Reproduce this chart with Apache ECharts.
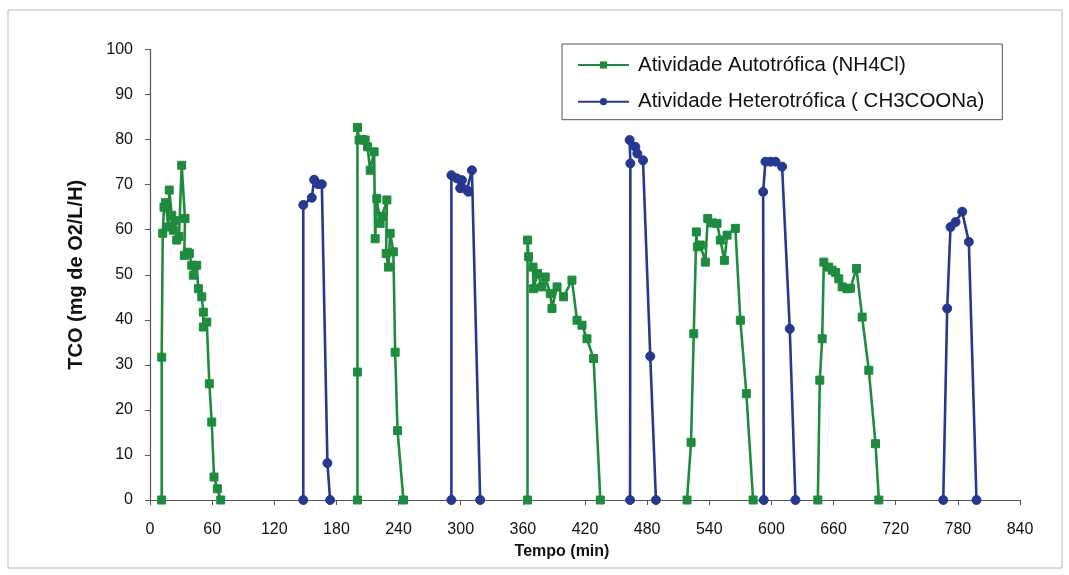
<!DOCTYPE html>
<html>
<head>
<meta charset="utf-8">
<title>TCO</title>
<script src="https://cdn.jsdelivr.net/npm/echarts@6/dist/echarts.min.js"></script>
<style>
  html, body { margin: 0; padding: 0; background: #ffffff; }
  #chart { width: 1069px; height: 575px; }
</style>
</head>
<body>
<div id="chart"></div>
<script>
// Tempo (min) e TCO (mg O2/L/H) — null separa os ciclos de ensaio
const autoTempo = [
  11.3, 11.3, 12.3, 13.5, 15, 17.7, 18.6, 21, 22.5, 24, 25.8, 28, 30.6, 33.8, 33.1, 36, 38, 40.3, 41.8, 45.1, 46.7, 50, 51.5, 51.5, 54.8, 57.3, 59.6, 61.8, 65, 68.3,
  null,
  200.3, 200.3, 200.3, 201.9, 205, 207.7, 210, 212.6, 216.4, 217.4, 219, 222.2, 224, 228.7, 228, 230.2, 231.9, 235, 236.7, 239, 244.7,
  null,
  364.5, 364.5, 365.5, 369.8, 370.3, 374.2, 378.4, 381.6, 386.5, 388.1, 393, 399.3, 407.4, 412.3, 417.1, 421.9, 428.3, 434.8,
  null,
  518.5, 522.4, 525, 527.5, 528.5, 531.4, 536.2, 538.5, 543, 547.5, 550.7, 554.6, 557.2, 565.2, 570, 575.8, 582.3,
  null,
  644.8, 646.7, 649, 650.6, 655.4, 658.6, 662, 665, 668.3, 673, 676.3, 682.1, 687.6, 694, 700.5, 703.7
];
const autoTco = [
  0, 31.7, 59.2, 65, 66, 60.6, 68.8, 63.2, 59.9, 62, 57.7, 58.5, 74.3, 62.5, 54.3, 55, 54.7, 52.1, 49.9, 52.1, 46.9, 45.1, 41.7, 38.4, 39.5, 25.8, 17.3, 5.1, 2.5, 0,
  null,
  0, 28.4, 82.7, 79.9, 80, 79.9, 78.4, 73.2, 77.3, 58, 66.9, 61.4, 63, 66.6, 54.7, 51.7, 59.2, 55.1, 32.8, 15.4, 0,
  null,
  0, 57.7, 54, 51.7, 46.9, 50.3, 47.3, 49.5, 45.8, 42.5, 47.3, 45.1, 48.8, 39.9, 38.8, 35.8, 31.4, 0,
  null,
  0, 12.8, 36.9, 59.5, 56.2, 56.6, 52.8, 62.5, 61.5, 61.4, 57.7, 53.2, 58.8, 60.3, 39.9, 23.6, 0,
  null,
  0, 26.6, 35.8, 52.8, 51.7, 51, 50.5, 49.1, 47.3, 46.9, 47, 51.4, 40.6, 28.8, 12.5, 0
];
const heteroTempo = [
  148, 148, 156.2, 158.5, 162.3, 165.9, 171.3, 173.9,
  null,
  291, 291, 296.3, 299.5, 301.2, 306, 307.5, 310.8, 318.8,
  null,
  463.5, 463.8, 463.1, 468.6, 470.5, 476, 483, 488.5,
  null,
  592.6, 592, 594.2, 599, 603.9, 610.3, 617.7, 623.2,
  null,
  765.9, 769.7, 772.9, 777.8, 784.2, 790.6, 798
];
const heteroTco = [
  0, 65.5, 67.1, 71.1, 70.1, 70.1, 8.2, 0,
  null,
  0, 72.1, 71.4, 69.2, 71, 68.8, 68.4, 73.2, 0,
  null,
  0, 74.7, 79.9, 78.4, 76.9, 75.4, 31.9, 0,
  null,
  0, 68.4, 75.1, 75.1, 75.1, 74, 38, 0,
  null,
  0, 42.5, 60.6, 61.7, 64, 57.3, 0
];
const xTicks = { min: 0, max: 840, step: 60 };
const yTicks = { min: 0, max: 100, step: 10 };
const seriesNames = ['Atividade Autotrófica (NH4Cl)', 'Atividade Heterotrófica ( CH3COONa)'];

const GREEN = '#1f8b3f';
const BLUE = '#26388f';
const FONT = '"Liberation Sans", Arial, sans-serif';

function pairs(xs, ys) {
  return xs.map((x, i) => (x === null ? ['-', '-'] : [x, ys[i]]));
}

const chart = echarts.init(document.getElementById('chart'), null, { renderer: 'canvas' });

chart.setOption({
  animation: false,
  backgroundColor: '#ffffff',
  textStyle: { fontFamily: FONT },
  graphic: [{
    type: 'rect',
    shape: { x: 8, y: 10, width: 1054, height: 558 },
    style: { fill: 'none', stroke: '#b8b8b8', lineWidth: 1 },
    silent: true,
    z: -1
  }],
  grid: { left: 150, right: 49, top: 49.5, bottom: 75 },
  legend: {
    orient: 'vertical',
    left: 562,
    top: 44,
    padding: [10, 18, 7, 15],
    itemGap: 14.7,
    itemWidth: 51,
    itemHeight: 9,
    borderColor: '#555555',
    borderWidth: 1,
    textStyle: { fontFamily: FONT, fontSize: 20.5, lineHeight: 22, color: '#111111', padding: [0, 0, 0, 4] },
    data: seriesNames
  },
  xAxis: {
    type: 'value',
    min: xTicks.min,
    max: xTicks.max,
    interval: xTicks.step,
    name: 'Tempo (min)',
    nameLocation: 'middle',
    nameGap: 44,
    nameTextStyle: { fontFamily: FONT, fontSize: 16, fontWeight: 'bold', color: '#111111', padding: [0, 46, 0, 0] },
    axisLine: { onZero: false, lineStyle: { color: '#555555', width: 1.2 } },
    axisTick: { show: true, length: 5, inside: false, lineStyle: { color: '#555555' } },
    axisLabel: { margin: 22, fontSize: 16, color: '#111111', fontFamily: FONT },
    splitLine: { show: false }
  },
  yAxis: {
    type: 'value',
    min: yTicks.min,
    max: yTicks.max,
    interval: yTicks.step,
    name: 'TCO (mg de O2/L/H)',
    nameLocation: 'middle',
    nameGap: 64,
    nameTextStyle: { fontFamily: FONT, fontSize: 20, fontWeight: 'bold', color: '#111111' },
    axisLine: { show: true, lineStyle: { color: '#555555', width: 1.2 } },
    axisTick: { show: true, length: 5, inside: false, lineStyle: { color: '#555555' } },
    axisLabel: { margin: 17, fontSize: 16, color: '#111111', fontFamily: FONT },
    splitLine: { show: false }
  },
  series: [
    {
      name: seriesNames[0],
      type: 'line',
      data: pairs(autoTempo, autoTco),
      connectNulls: false,
      symbol: 'rect',
      symbolSize: 8,
      showAllSymbol: true,
      lineStyle: { color: GREEN, width: 2.6 },
      itemStyle: { color: GREEN, borderColor: GREEN },
      z: 3
    },
    {
      name: seriesNames[1],
      type: 'line',
      data: pairs(heteroTempo, heteroTco),
      connectNulls: false,
      symbol: 'circle',
      symbolSize: 9,
      showAllSymbol: true,
      lineStyle: { color: BLUE, width: 2.6 },
      itemStyle: { color: BLUE, borderColor: BLUE },
      z: 3
    }
  ]
});
</script>
</body>
</html>
